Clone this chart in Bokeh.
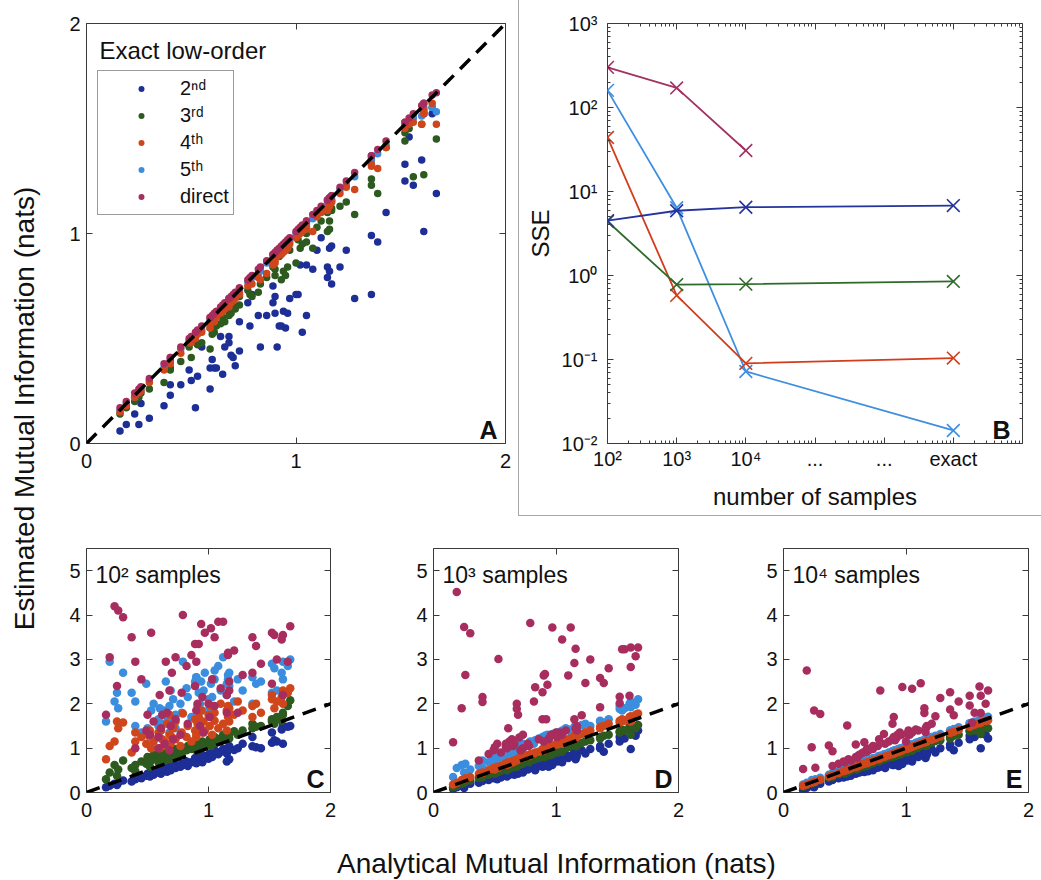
from bokeh.plotting import figure
from bokeh.layouts import row, column
from bokeh.models import (Label, Legend, LegendItem, Slope, LinearAxis, LogAxis,
                          FixedTicker, Range1d)
from bokeh.embed import file_html
from bokeh.resources import INLINE

FONT = "Liberation Sans"
INK = "#111111"
FRAME = "#3a3a3a"
LBL_SHIFT = 8   # baseline correction for annotation labels (px)

series = ["2nd", "3rd", "4th", "5th", "direct"]
legend_labels = ["2ⁿᵈ", "3ʳᵈ", "4ᵗʰ", "5ᵗʰ", "direct"]
colors = {"2nd": "#1d2f96", "3rd": "#2d5a1e", "4th": "#d0461c",
          "5th": "#3b8ede", "direct": "#a82d5f"}
draw_order = ["2nd", "3rd", "5th", "4th", "direct"]

# analytical mutual information of each test system (nats)
mi_true = [0.16, 0.19, 0.23, 0.25, 0.26, 0.30, 0.37, 0.40, 0.40, 0.45,
           0.49, 0.50, 0.52, 0.53, 0.55, 0.59, 0.59, 0.60, 0.61, 0.62,
           0.64, 0.65, 0.66, 0.68, 0.68, 0.69, 0.70, 0.71, 0.73, 0.73,
           0.77, 0.78, 0.79, 0.82, 0.83, 0.86, 0.89, 0.89, 0.90, 0.91,
           0.92, 0.90, 0.93, 0.94, 0.95, 0.96, 0.97, 1.00, 1.01, 1.02,
           1.03, 1.05, 1.05, 1.08, 1.10, 1.12, 1.15, 1.16, 1.15, 1.16,
           1.17, 1.17, 1.21, 1.24, 1.28, 1.36, 1.36, 1.39, 1.43, 1.52,
           1.52, 1.54, 1.56, 1.60, 1.61, 1.61, 1.65, 1.67]

# ---- panel A: exact low-order estimates ----
a_2nd = [0.06, 0.09, 0.14, 0.09, 0.19, 0.12, 0.18, 0.23, 0.28, 0.28,
         0.35, 0.30, 0.17, 0.32, 0.46, 0.26, 0.36, 0.40, 0.36, 0.36,
         0.51, 0.33, 0.46, 0.51, 0.48, 0.42, 0.41, 0.37, 0.58, 0.44,
         0.67, 0.56, 0.71, 0.61, 0.46, 0.61, 0.67, 0.75, 0.62, 0.46,
         0.56, 0.70, 0.56, 0.63, 0.55, 0.62, 0.69, 0.71, 0.71, 0.85,
         0.53, 0.61, 0.85, 0.83, 0.92, 0.98, 0.79, 0.93, 0.84, 0.82,
         0.94, 0.76, 0.84, 0.92, 0.69, 0.71, 0.99, 0.96, 1.10, 1.33,
         1.25, 1.46, 1.23, 1.35, 1.57, 1.01, 1.57, 1.19]
a_3rd = [0.14, 0.17, 0.20, 0.22, 0.24, 0.26, 0.29, 0.36, 0.35, 0.39,
         0.46, 0.41, 0.49, 0.47, 0.48, 0.45, 0.55, 0.52, 0.53, 0.56,
         0.57, 0.60, 0.58, 0.63, 0.61, 0.62, 0.66, 0.64, 0.66, 0.70,
         0.73, 0.71, 0.70, 0.72, 0.76, 0.79, 0.86, 0.84, 0.80, 0.92,
         0.89, 0.83, 0.78, 0.82, 0.80, 0.84, 0.92, 0.86, 0.97, 0.93,
         0.95, 1.00, 0.96, 0.93, 1.03, 1.06, 1.01, 1.06, 1.10, 1.02,
         1.12, 1.11, 1.13, 1.15, 1.09, 1.23, 1.26, 1.19, 1.41, 1.44,
         1.48, 1.50, 1.27, 1.52, 1.28, 1.58, 1.60, 1.45]
a_4th = [0.15, 0.18, 0.22, 0.24, 0.25, 0.29, 0.35, 0.38, 0.39, 0.43,
         0.48, 0.48, 0.50, 0.52, 0.53, 0.55, 0.57, 0.58, 0.58, 0.60,
         0.62, 0.63, 0.64, 0.66, 0.65, 0.67, 0.68, 0.69, 0.71, 0.71,
         0.75, 0.76, 0.76, 0.79, 0.78, 0.81, 0.86, 0.85, 0.86, 0.89,
         0.90, 0.87, 0.90, 0.91, 0.92, 0.93, 0.95, 0.98, 0.99, 1.00,
         1.01, 1.03, 1.02, 1.01, 1.08, 1.10, 1.11, 1.13, 1.12, 1.14,
         1.15, 1.15, 1.19, 1.22, 1.21, 1.32, 1.33, 1.31, 1.41, 1.51,
         1.50, 1.52, 1.53, 1.52, 1.57, 1.59, 1.62, 1.52]
a_5th = [0.16, 0.19, 0.22, 0.25, 0.26, 0.30, 0.36, 0.40, 0.39, 0.45,
         0.49, 0.49, 0.52, 0.53, 0.54, 0.58, 0.59, 0.60, 0.61, 0.61,
         0.64, 0.65, 0.65, 0.68, 0.67, 0.69, 0.70, 0.70, 0.73, 0.72,
         0.77, 0.77, 0.79, 0.81, 0.82, 0.86, 0.88, 0.88, 0.89, 0.91,
         0.91, 0.89, 0.93, 0.94, 0.94, 0.95, 0.96, 1.00, 1.00, 1.01,
         1.02, 1.05, 1.04, 1.07, 1.10, 1.11, 1.14, 1.15, 1.14, 1.15,
         1.16, 1.16, 1.21, 1.23, 1.27, 1.35, 1.36, 1.38, 1.42, 1.51,
         1.51, 1.53, 1.55, 1.56, 1.57, 1.60, 1.60, 1.58]
a_direct = [0.17, 0.20, 0.24, 0.26, 0.27, 0.31, 0.38, 0.41, 0.41, 0.46,
            0.50, 0.51, 0.53, 0.54, 0.56, 0.60, 0.60, 0.61, 0.62, 0.63,
            0.65, 0.66, 0.67, 0.69, 0.69, 0.70, 0.71, 0.72, 0.74, 0.74,
            0.78, 0.79, 0.80, 0.83, 0.84, 0.87, 0.90, 0.90, 0.91, 0.92,
            0.93, 0.91, 0.94, 0.95, 0.96, 0.97, 0.98, 1.01, 1.02, 1.03,
            1.04, 1.06, 1.06, 1.09, 1.11, 1.13, 1.16, 1.17, 1.16, 1.17,
            1.18, 1.18, 1.22, 1.25, 1.29, 1.37, 1.37, 1.40, 1.44, 1.53,
            1.53, 1.55, 1.57, 1.61, 1.62, 1.62, 1.66, 1.67]

# ---- panel C: 10^2 samples ----
c_2nd = [0.12, 0.15, 0.20, 0.17, 0.22, 0.27, 0.25, 0.30, 0.35, 0.32,
         0.38, 0.42, 0.36, 0.45, 0.40, 0.45, 0.50, 0.48, 0.42, 0.52,
         0.50, 0.55, 0.47, 0.52, 0.58, 0.50, 0.56, 0.60, 0.55, 0.62,
         0.58, 0.65, 0.62, 0.70, 0.60, 0.68, 0.72, 0.78, 0.66, 0.75,
         0.80, 0.70, 0.74, 0.85, 0.68, 0.78, 0.82, 0.76, 0.88, 0.84,
         0.80, 0.90, 0.95, 0.86, 0.92, 0.98, 0.88, 0.96, 0.70, 1.00,
         0.75, 1.05, 0.96, 1.00, 1.10, 1.04, 1.25, 1.02, 1.00, 1.12,
         1.35, 1.18, 1.15, 1.42, 1.10, 1.50, 1.48, 1.50]
c_3rd = [0.30, 0.45, 0.62, 0.38, 0.52, 0.72, 0.55, 0.62, 0.48, 0.70,
         0.65, 0.80, 0.58, 0.72, 0.85, 0.75, 0.68, 0.90, 0.78, 0.82,
         0.72, 0.85, 0.92, 0.80, 0.75, 0.95, 0.88, 0.78, 0.98, 0.85,
         0.92, 0.88, 1.00, 0.95, 1.05, 0.98, 1.02, 1.10, 0.95, 1.08,
         1.00, 1.12, 0.98, 1.05, 1.15, 1.02, 1.10, 1.08, 1.20, 1.05,
         1.15, 1.12, 1.25, 1.18, 1.22, 1.30, 1.20, 1.35, 1.25, 1.28,
         1.32, 1.22, 1.38, 1.30, 1.40, 1.45, 1.55, 1.48, 1.50, 1.60,
         1.65, 1.55, 1.70, 1.62, 1.75, 1.80, 1.95, 2.08]
c_4th = [0.75, 1.05, 1.15, 1.60, 1.45, 1.58, 0.90, 1.35, 1.15, 1.25,
         1.10, 1.30, 1.40, 1.00, 1.15, 1.35, 1.25, 1.00, 1.40, 1.20,
         1.15, 1.05, 1.55, 1.30, 1.75, 1.10, 1.25, 1.45, 1.60, 1.20,
         1.05, 1.35, 1.78, 1.25, 1.50, 1.15, 1.40, 1.65, 1.30, 1.55,
         1.70, 1.25, 1.45, 1.85, 1.35, 1.60, 1.40, 1.75, 1.50, 1.95,
         1.30, 1.62, 1.80, 1.45, 2.00, 1.55, 1.85, 1.70, 1.40, 1.95,
         1.60, 1.90, 1.75, 2.05, 1.85, 1.70, 1.95, 2.00, 1.80, 2.10,
         2.20, 1.90, 2.05, 2.15, 2.30, 2.00, 2.25, 2.35]
c_5th = [1.60, 2.95, 2.05, 2.25, 1.90, 2.70, 2.25, 2.05, 1.50, 1.35,
         2.45, 1.45, 1.25, 1.85, 2.00, 1.50, 1.65, 1.90, 1.40, 1.55,
         1.85, 2.50, 1.70, 1.95, 1.35, 2.30, 1.60, 2.10, 1.75, 1.45,
         2.00, 1.80, 2.95, 2.35, 2.15, 1.70, 2.50, 2.40, 2.60, 1.95,
         2.25, 2.60, 2.00, 2.50, 1.85, 2.30, 2.70, 2.10, 1.90, 2.45,
         2.15, 2.75, 2.55, 2.85, 2.30, 3.05, 2.45, 2.65, 2.20, 2.55,
         2.40, 2.70, 2.05, 2.55, 2.30, 2.00, 2.60, 2.45, 2.50, 2.25,
         2.90, 2.80, 2.30, 2.70, 2.55, 2.95, 2.85, 3.00]
c_direct = [1.75, 3.05, 4.20, 2.40, 4.10, 3.95, 3.50, 1.00, 2.95, 2.55,
            1.40, 1.75, 1.30, 3.60, 1.60, 1.25, 1.00, 2.20, 1.45, 1.75,
            1.10, 2.95, 1.80, 2.30, 0.95, 1.50, 2.70, 1.20, 3.05, 1.65,
            1.30, 2.25, 4.00, 2.85, 1.55, 3.10, 2.40, 3.35, 1.85, 2.00,
            3.35, 2.95, 1.50, 3.80, 2.15, 1.35, 3.60, 2.00, 1.70, 3.70,
            2.55, 3.50, 1.95, 3.85, 2.35, 3.85, 1.80, 3.10, 2.20, 3.15,
            2.50, 2.30, 3.20, 1.80, 2.65, 3.50, 2.70, 3.30, 2.90, 3.60,
            2.45, 3.55, 3.00, 3.45, 2.20, 3.55, 2.95, 3.75]

# ---- panel D: 10^3 samples ----
d_2nd = [0.08, 0.12, 0.15, 0.10, 0.18, 0.20, 0.22, 0.30, 0.26, 0.28,
         0.32, 0.35, 0.30, 0.40, 0.34, 0.38, 0.42, 0.36, 0.45, 0.40,
         0.44, 0.48, 0.40, 0.46, 0.52, 0.42, 0.50, 0.48, 0.55, 0.45,
         0.52, 0.58, 0.55, 0.62, 0.50, 0.60, 0.64, 0.58, 0.68, 0.62,
         0.65, 0.60, 0.70, 0.58, 0.72, 0.66, 0.62, 0.75, 0.70, 0.78,
         0.72, 0.80, 0.68, 0.85, 0.78, 0.82, 0.88, 0.75, 0.92, 0.84,
         0.90, 0.82, 0.95, 0.88, 0.98, 1.00, 1.05, 0.92, 1.10, 1.25,
         1.15, 1.30, 1.22, 1.40, 0.98, 1.35, 1.28, 1.40]
d_3rd = [0.12, 0.16, 0.20, 0.22, 0.24, 0.27, 0.33, 0.36, 0.34, 0.40,
         0.44, 0.42, 0.47, 0.46, 0.49, 0.52, 0.55, 0.50, 0.56, 0.54,
         0.58, 0.57, 0.60, 0.62, 0.58, 0.64, 0.62, 0.66, 0.65, 0.68,
         0.70, 0.68, 0.72, 0.74, 0.76, 0.78, 0.82, 0.80, 0.84, 0.80,
         0.86, 0.82, 0.85, 0.88, 0.84, 0.90, 0.86, 0.92, 0.90, 0.95,
         0.94, 0.98, 0.92, 1.00, 1.02, 1.05, 1.08, 1.04, 1.10, 1.06,
         1.10, 1.05, 1.12, 1.15, 1.18, 1.25, 1.22, 1.28, 1.30, 1.38,
         1.35, 1.42, 1.40, 1.48, 1.30, 1.50, 1.45, 1.52]
d_4th = [0.18, 0.22, 0.28, 0.30, 0.32, 0.35, 0.42, 0.45, 0.44, 0.50,
         0.55, 0.52, 0.58, 0.56, 0.60, 0.64, 0.66, 0.62, 0.68, 0.65,
         0.70, 0.68, 0.72, 0.74, 0.72, 0.76, 0.75, 0.80, 0.78, 0.82,
         0.84, 0.82, 0.86, 0.88, 0.90, 0.92, 0.95, 0.98, 0.94, 1.00,
         0.98, 0.96, 1.02, 1.00, 1.05, 1.04, 1.06, 1.10, 1.08, 1.12,
         1.12, 1.15, 1.10, 1.18, 1.20, 1.22, 1.26, 1.24, 1.28, 1.25,
         1.28, 1.25, 1.32, 1.36, 1.40, 1.45, 1.48, 1.50, 1.55, 1.62,
         1.58, 1.65, 1.62, 1.70, 1.60, 1.72, 1.75, 1.78]
d_5th = [0.35, 0.55, 0.62, 0.45, 0.65, 0.52, 0.60, 0.72, 0.55, 0.68,
         0.78, 0.72, 0.85, 0.68, 0.80, 0.88, 0.95, 0.82, 0.90, 0.86,
         0.92, 0.98, 0.88, 1.02, 0.95, 1.05, 0.98, 1.08, 1.00, 1.10,
         1.05, 1.12, 1.15, 1.10, 1.18, 1.22, 1.20, 1.25, 1.15, 1.28,
         1.22, 1.18, 1.30, 1.20, 1.25, 1.28, 1.32, 1.30, 1.35, 1.28,
         1.35, 1.40, 1.32, 1.45, 1.42, 1.38, 1.48, 1.45, 1.40, 1.50,
         1.48, 1.45, 1.52, 1.55, 1.50, 1.60, 1.62, 1.58, 1.65, 1.88,
         1.95, 1.85, 1.90, 2.00, 1.92, 2.05, 1.98, 2.10]
d_direct = [1.13, 4.52, 1.90, 3.73, 2.65, 3.59, 0.72, 2.15, 2.04, 0.87,
            0.95, 1.02, 1.10, 3.01, 0.90, 1.10, 1.05, 1.00, 1.45, 1.15,
            1.20, 1.05, 1.10, 2.00, 1.89, 1.75, 1.24, 0.95, 1.30, 1.00,
            1.10, 1.05, 3.82, 2.05, 2.37, 1.20, 2.26, 1.65, 2.64, 2.67,
            1.65, 1.15, 2.43, 1.20, 1.25, 1.30, 3.72, 1.35, 1.25, 1.30,
            1.35, 1.30, 3.45, 1.40, 2.64, 3.72, 2.92, 3.24, 1.65, 1.45,
            1.40, 1.50, 1.74, 2.47, 3.00, 2.58, 1.92, 2.47, 2.80, 2.16,
            2.01, 3.23, 3.23, 2.18, 2.83, 3.27, 3.07, 3.27]

# ---- panel E: 10^4 samples ----
e_2nd = [0.05, 0.10, 0.14, 0.12, 0.18, 0.20, 0.25, 0.28, 0.30, 0.32,
         0.34, 0.38, 0.36, 0.40, 0.38, 0.42, 0.46, 0.44, 0.48, 0.45,
         0.48, 0.52, 0.46, 0.50, 0.55, 0.48, 0.52, 0.56, 0.58, 0.50,
         0.56, 0.62, 0.58, 0.64, 0.55, 0.66, 0.68, 0.62, 0.70, 0.64,
         0.66, 0.62, 0.72, 0.60, 0.75, 0.68, 0.64, 0.78, 0.72, 0.80,
         0.75, 0.82, 0.70, 0.88, 0.80, 0.84, 0.90, 0.78, 0.95, 0.86,
         0.92, 0.85, 0.98, 0.90, 1.00, 1.02, 1.08, 0.95, 1.12, 1.28,
         1.20, 1.32, 1.25, 1.42, 1.00, 1.38, 1.30, 1.22]
e_3rd = [0.13, 0.17, 0.21, 0.22, 0.24, 0.28, 0.33, 0.37, 0.35, 0.41,
         0.45, 0.43, 0.48, 0.47, 0.50, 0.53, 0.55, 0.52, 0.56, 0.55,
         0.58, 0.58, 0.60, 0.63, 0.60, 0.64, 0.63, 0.66, 0.66, 0.68,
         0.71, 0.70, 0.72, 0.75, 0.76, 0.79, 0.82, 0.80, 0.84, 0.82,
         0.86, 0.82, 0.86, 0.88, 0.85, 0.90, 0.88, 0.92, 0.91, 0.95,
         0.95, 0.98, 0.94, 1.00, 1.02, 1.05, 1.08, 1.05, 1.10, 1.06,
         1.10, 1.06, 1.12, 1.16, 1.18, 1.25, 1.22, 1.28, 1.30, 1.40,
         1.38, 1.44, 1.40, 1.48, 1.32, 1.50, 1.46, 1.45]
e_4th = [0.15, 0.18, 0.22, 0.24, 0.25, 0.29, 0.36, 0.39, 0.39, 0.44,
         0.48, 0.49, 0.51, 0.52, 0.54, 0.57, 0.58, 0.59, 0.60, 0.61,
         0.63, 0.64, 0.65, 0.66, 0.67, 0.68, 0.69, 0.70, 0.71, 0.72,
         0.75, 0.76, 0.77, 0.80, 0.81, 0.84, 0.87, 0.87, 0.88, 0.89,
         0.90, 0.88, 0.91, 0.92, 0.93, 0.94, 0.95, 0.98, 0.99, 1.00,
         1.01, 1.03, 1.03, 1.06, 1.08, 1.10, 1.13, 1.14, 1.13, 1.14,
         1.15, 1.15, 1.19, 1.22, 1.26, 1.34, 1.34, 1.37, 1.41, 1.49,
         1.49, 1.51, 1.53, 1.56, 1.57, 1.58, 1.61, 1.63]
e_5th = [0.18, 0.22, 0.28, 0.26, 0.30, 0.33, 0.40, 0.44, 0.42, 0.48,
         0.52, 0.53, 0.55, 0.57, 0.58, 0.62, 0.63, 0.64, 0.65, 0.66,
         0.68, 0.69, 0.70, 0.72, 0.72, 0.73, 0.74, 0.75, 0.77, 0.77,
         0.81, 0.82, 0.83, 0.86, 0.87, 0.90, 0.93, 0.93, 0.94, 0.95,
         0.96, 0.94, 0.97, 0.98, 0.99, 1.00, 1.01, 1.04, 1.05, 1.06,
         1.07, 1.09, 1.09, 1.12, 1.14, 1.16, 1.19, 1.20, 1.19, 1.20,
         1.21, 1.21, 1.25, 1.28, 1.32, 1.40, 1.40, 1.43, 1.47, 1.56,
         1.56, 1.58, 1.60, 1.64, 1.65, 1.66, 1.69, 1.71]
e_direct = [0.53, 2.75, 1.02, 1.85, 0.56, 1.77, 1.06, 0.93, 0.60, 0.65,
            0.70, 0.68, 1.51, 0.75, 0.72, 1.08, 0.80, 0.78, 0.83, 0.85,
            0.88, 0.90, 1.13, 0.98, 0.92, 0.95, 0.96, 1.00, 1.05, 0.98,
            1.05, 1.20, 2.30, 1.32, 1.10, 1.15, 1.55, 1.20, 1.70, 1.18,
            1.22, 1.25, 1.30, 1.28, 1.35, 1.30, 2.38, 1.15, 1.32, 1.40,
            1.30, 1.35, 2.34, 1.42, 1.40, 2.46, 1.90, 1.36, 1.79, 1.45,
            1.48, 1.50, 1.55, 1.72, 2.13, 2.26, 1.87, 1.74, 2.05, 2.18,
            1.96, 1.57, 1.80, 2.39, 1.79, 2.18, 2.00, 2.30]

# ---- panel B: sum of squared errors vs number of samples ----
sample_pos = [1e2, 1e3, 1e4, 1e7]          # last position = "exact"
sse_2nd = [4.5, 5.9, 6.5, 6.8]
sse_3rd = [4.4, 0.78, 0.79, 0.85]
sse_4th = [44.0, 0.58, 0.09, 0.104]
sse_5th = [160.0, 6.4, 0.072, 0.0143]
sse_direct = [300.0, 171.0, 30.8]
b_colors = {"2nd": "#24349c", "3rd": "#2f6a2a", "4th": "#d23d1c",
            "5th": "#3f8fe0", "direct": "#a33262"}
b_ticks = [1e2, 1e3, 1e4, 1e5, 1e6, 1e7, 1e8]
b_tick_labels = ["10²", "10³", "10⁴", "...", "...", "exact", ""]
sse_ticks = [1e-2, 1e-1, 1e0, 1e1, 1e2, 1e3]
sse_tick_labels = ["10⁻²", "10⁻¹", "10⁰", "10¹", "10²", "10³"]

panels = {
    "A": {"2nd": a_2nd, "3rd": a_3rd, "4th": a_4th, "5th": a_5th, "direct": a_direct},
    "C": {"2nd": c_2nd, "3rd": c_3rd, "4th": c_4th, "5th": c_5th, "direct": c_direct},
    "D": {"2nd": d_2nd, "3rd": d_3rd, "4th": d_4th, "5th": d_5th, "direct": d_direct},
    "E": {"2nd": e_2nd, "3rd": e_3rd, "4th": e_4th, "5th": e_5th, "direct": e_direct},
}
for k, d in panels.items():
    for s, v in d.items():
        assert len(v) == len(mi_true), (k, s, len(v))


def style_axes(axes, font_size="20px"):
    for ax in axes:
        ax.axis_line_color = None
        ax.major_tick_in = 6
        ax.major_tick_out = 0
        ax.major_tick_line_color = FRAME
        ax.major_label_text_font = FONT
        ax.major_label_text_font_size = font_size
        ax.major_label_text_color = INK


def matlab_box(p, xt, yt, xstand=10, ystand=6):
    p.xgrid.visible = False
    p.ygrid.visible = False
    p.outline_line_color = FRAME
    p.outline_line_width = 1
    bottom_ax = p.below[0]
    left_ax = p.left[0]
    bottom_ax.ticker = FixedTicker(ticks=xt)
    left_ax.ticker = FixedTicker(ticks=yt)
    top_ax = LinearAxis(ticker=FixedTicker(ticks=xt),
                        major_label_overrides={t: "" for t in xt})
    right_ax = LinearAxis(ticker=FixedTicker(ticks=yt),
                          major_label_overrides={t: "" for t in yt})
    p.add_layout(top_ax, "above")
    p.add_layout(right_ax, "right")
    style_axes([bottom_ax, left_ax, top_ax, right_ax])
    for ax in (bottom_ax, left_ax, top_ax, right_ax):
        ax.minor_tick_line_color = None
    bottom_ax.major_label_standoff = xstand
    left_ax.major_label_standoff = ystand


def new_fig(w, h, bl, br, bt, bb, xr, yr, **kw):
    return figure(width=w, height=h, min_border_left=bl, min_border_right=br,
                  min_border_top=bt, min_border_bottom=bb,
                  x_range=xr, y_range=yr, toolbar_location=None,
                  output_backend="svg", background_fill_color="white",
                  border_fill_color="white", **kw)


def add_scatter(p, data, size):
    rs = {}
    for s in draw_order:
        rs[s] = p.scatter(mi_true, data[s], size=size, fill_color=colors[s],
                          line_color=None, marker="circle")
    p.add_layout(Slope(gradient=1, y_intercept=0, line_color="black",
                       line_width=3.5, line_dash="14 9"))
    return rs


def letter(p, txt, fw):
    p.add_layout(Label(x=fw, y=6 + LBL_SHIFT, x_units="screen", y_units="screen",
                       text=txt, text_align="right", text_baseline="alphabetic",
                       text_font=FONT, text_font_size="25px",
                       text_font_style="bold", text_color=INK))


# ---------------- panel A ----------------
pA = new_fig(473, 516, 41, 13, 23, 73, Range1d(0, 2), Range1d(0, 2))
rA = add_scatter(pA, panels["A"], 7.5)
matlab_box(pA, [0, 1, 2], [0, 1, 2])
pA.add_layout(Label(x=13, y=385 + LBL_SHIFT, x_units="screen", y_units="screen",
                    text="Exact low-order", text_font=FONT, text_font_size="24px",
                    text_baseline="alphabetic", text_color=INK))
leg = Legend(items=[LegendItem(label=lab, renderers=[rA[s]])
                    for s, lab in zip(series, legend_labels)],
             location=(11, 228), margin=0, padding=4, spacing=0,
             glyph_width=78, glyph_height=15, label_height=27, label_standoff=0,
             label_text_font=FONT, label_text_font_size="20px",
             label_text_color=INK, border_line_color=FRAME,
             border_line_width=1, background_fill_color="white",
             background_fill_alpha=1)
pA.add_layout(leg)
letter(pA, "A", 411)

# ---------------- panel B ----------------
pB = new_fig(523, 516, 89, 19, 23, 73, Range1d(1e2, 1e8), Range1d(1e-2, 1e3),
             x_axis_type="log", y_axis_type="log")
pB.border_fill_color = None
pB.styles = {"box-shadow": "inset 1px -1px 0 0 #a8a8a8"}
pB.xgrid.visible = False
pB.ygrid.visible = False
pB.outline_line_color = FRAME
x_minor = [k * 10.0 ** e for e in range(2, 8) for k in range(2, 10)]
y_minor = [k * 10.0 ** e for e in range(-2, 3) for k in range(2, 10)]
bx = pB.below[0]
by = pB.left[0]
bx.ticker = FixedTicker(ticks=b_ticks, minor_ticks=x_minor)
by.ticker = FixedTicker(ticks=sse_ticks, minor_ticks=y_minor)
bx.major_label_overrides = dict(zip(b_ticks, b_tick_labels))
by.major_label_overrides = dict(zip(sse_ticks, sse_tick_labels))
btop = LogAxis(ticker=FixedTicker(ticks=b_ticks, minor_ticks=x_minor),
               major_label_overrides={t: "" for t in b_ticks})
bright = LogAxis(ticker=FixedTicker(ticks=sse_ticks, minor_ticks=y_minor),
                 major_label_overrides={t: "" for t in sse_ticks})
pB.add_layout(btop, "above")
pB.add_layout(bright, "right")
style_axes([bx, by, btop, bright])
for ax in (bx, by, btop, bright):
    ax.minor_tick_in = 3
    ax.minor_tick_out = 0
    ax.minor_tick_line_color = FRAME
bx.major_label_standoff = 4
by.major_label_standoff = 10
bx.axis_label = "number of samples"
by.axis_label = "SSE"
for ax in (bx, by):
    ax.axis_label_text_font = FONT
    ax.axis_label_text_font_size = "24px"
    ax.axis_label_text_font_style = "normal"
    ax.axis_label_text_color = INK
bx.axis_label_standoff = 10
by.axis_label_standoff = 5
b_series = {"2nd": sse_2nd, "3rd": sse_3rd, "4th": sse_4th, "5th": sse_5th,
            "direct": sse_direct}
for s in ["direct", "5th", "4th", "3rd", "2nd"]:
    ys = b_series[s]
    xs = sample_pos[:len(ys)]
    pB.line(xs, ys, line_color=b_colors[s], line_width=1.8)
    pB.scatter(xs, ys, marker="x", size=18, line_color=b_colors[s], line_width=1.6)
letter(pB, "B", 403)

# ---------------- panels C, D, E ----------------
bottom = []
specs = [("C", "10² samples", 335, 41, 50, 244),
         ("D", "10³ samples", 350, 53, 52, 245),
         ("E", "10⁴ samples", 311, 53, 13, 245)]
for key, title, w, bl, br, fw in specs:
    p = new_fig(w, 314, bl, br, 32, 38, Range1d(0, 2), Range1d(0, 5.5))
    add_scatter(p, panels[key], 8.5)
    matlab_box(p, [0, 1, 2], [0, 1, 2, 3, 4, 5], xstand=10, ystand=6)
    p.add_layout(Label(x=9, y=210 + LBL_SHIFT, x_units="screen", y_units="screen",
                       text=title, text_font=FONT, text_font_size="23px",
                       text_baseline="alphabetic", text_color=INK))
    letter(p, key, fw - 6)
    bottom.append(p)

# ---------------- shared axis titles ----------------
ylab = figure(width=45, height=880, x_range=Range1d(0, 1), y_range=Range1d(0, 1),
              x_axis_type=None, y_axis_type=None, toolbar_location=None,
              output_backend="svg", min_border=0)
ylab.outline_line_color = None
ylab.add_layout(Label(x=24, y=472, x_units="screen", y_units="screen",
                      text="Estimated Mutual Information (nats)", angle=90,
                      angle_units="deg", text_align="center", text_baseline="middle",
                      text_font=FONT, text_font_size="28px", text_color=INK))

xlab = figure(width=996, height=50, x_range=Range1d(0, 1), y_range=Range1d(0, 1),
              x_axis_type=None, y_axis_type=None, toolbar_location=None,
              output_backend="svg", min_border=0)
xlab.outline_line_color = None
xlab.add_layout(Label(x=511, y=17, x_units="screen", y_units="screen",
                      text="Analytical Mutual Information (nats)",
                      text_align="center", text_baseline="middle",
                      text_font=FONT, text_font_size="28px", text_color=INK))

layout = row(ylab, column(row(pA, pB), row(*bottom), xlab))
open("out.html", "w").write(file_html(layout, INLINE))
